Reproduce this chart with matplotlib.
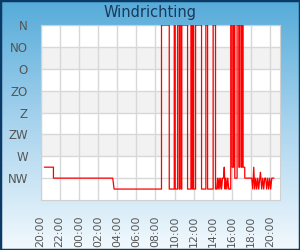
import numpy as np
import matplotlib
matplotlib.use("Agg")
import matplotlib.pyplot as plt
from matplotlib.colors import LinearSegmentedColormap

# wind direction (degrees, 0 = N at top), time in hours since 20:00
uur = [0.42, 1.35, 1.35, 7.54, 7.68, 12.63,
       12.63, 13.44, 13.44, 13.96, 13.96, 14.06, 14.06, 14.31, 14.31, 14.48,
       14.48, 14.55, 14.55, 14.69, 14.69, 14.75, 14.75, 15.35, 15.35, 15.70,
       15.70, 15.82, 15.82, 15.86, 15.86, 15.98, 15.98, 16.19, 16.19, 16.81,
       16.81, 17.26, 17.26, 17.44, 17.44, 18.02, 18.02, 18.27,
       18.27, 18.40, 18.48, 18.55, 18.65, 18.72, 18.82, 18.90, 19.00, 19.10,
       19.18, 19.26, 19.35, 19.45, 19.55, 19.65, 19.76,
       19.86, 19.86, 20.00, 20.00, 20.15, 20.15, 20.28, 20.28, 20.52, 20.52,
       20.70, 20.70, 20.80, 20.80, 20.96, 20.96, 21.04, 21.04, 21.15, 21.15,
       21.32, 21.32, 22.05,
       22.16, 22.26, 22.36, 22.47, 22.57, 22.68, 22.78, 22.89, 22.96, 23.09,
       23.20, 23.30, 23.41, 23.51, 23.61, 23.72, 23.82, 23.93, 24.03, 24.14,
       24.34]
richting = [292.5, 292.5, 315, 315, 337.5, 337.5,
            0, 0, 337.5, 337.5, 0, 0, 337.5, 337.5, 0, 0,
            337.5, 337.5, 0, 0, 337.5, 337.5, 0, 0, 337.5, 337.5,
            0, 0, 337.5, 337.5, 0, 0, 337.5, 337.5, 0, 0,
            337.5, 337.5, 0, 0, 337.5, 337.5, 0, 0,
            337.5, 337.5, 315, 337.5, 315, 337.5, 315, 337.5, 315, 315,
            292.5, 337.5, 315, 337.5, 315, 337.5, 337.5,
            337.5, 0, 0, 292.5, 292.5, 0, 0, 315, 315, 0,
            0, 292.5, 292.5, 0, 0, 292.5, 292.5, 0, 0, 292.5,
            292.5, 315, 315,
            337.5, 292.5, 337.5, 315, 337.5, 315, 337.5, 315, 303, 337.5,
            315, 337.5, 315, 315, 337.5, 315, 337.5, 315, 337.5, 315,
            315]

y_ticks = [0, 45, 90, 135, 180, 225, 270, 315]
y_labels = ["N", "NO", "O", "ZO", "Z", "ZW", "W", "NW"]
x_ticks = list(range(0, 25, 2))
x_labels = ["20:00", "22:00", "00:00", "02:00", "04:00", "06:00", "08:00",
            "10:00", "12:00", "14:00", "16:00", "18:00", "20:00"]

fig = plt.figure(figsize=(3, 2.5), dpi=100)

# blue gradient background
bg = fig.add_axes([0, 0, 1, 1], zorder=-1)
cmap = LinearSegmentedColormap.from_list("bg", ["#55abd9", "#a9d4ee", "#f2f9fd"])
bg.imshow(np.linspace(0, 1, 256).reshape(-1, 1), aspect="auto", cmap=cmap,
          extent=[0, 1, 0, 1], origin="upper")
bg.set_xlim(0, 1)
bg.set_ylim(0, 1)
bg.axis("off")
bg.add_patch(plt.Rectangle((0, 0), 1, 1, fill=False, edgecolor="#0c3a66",
                           linewidth=2.5, transform=bg.transAxes))

ax = fig.add_axes([40.5 / 300, 50 / 250, 239.5 / 300, 175 / 250])
ax.set_facecolor("white")
for lo in (45, 135, 225):
    ax.axhspan(lo, lo + 45, color="#f2f2f2", zorder=0, lw=0)

ax.plot(uur, richting, color="#ff0000", linewidth=0.9, zorder=3)

ax.set_xlim(0, 25)
ax.set_ylim(360, 0)
ax.set_yticks(y_ticks)
ax.set_yticklabels(y_labels)
ax.set_xticks(x_ticks)
ax.set_xticklabels(x_labels, rotation=90)
ax.tick_params(length=0, labelsize=7.8, colors="#555555")
ax.tick_params(axis="y", pad=9, labelsize=8.5)
ax.tick_params(axis="x", pad=11)
ax.grid(True, color="#d8d8d8", linewidth=1, zorder=1)
ax.set_axisbelow(True)
for s in ax.spines.values():
    s.set_color("#d0d0d0")

fig.text(0.5, 1 - 13 / 250, "Windrichting", ha="center", va="center",
         fontsize=10.5, color="#1b3a5a")

fig.savefig("out.png", dpi=100)
